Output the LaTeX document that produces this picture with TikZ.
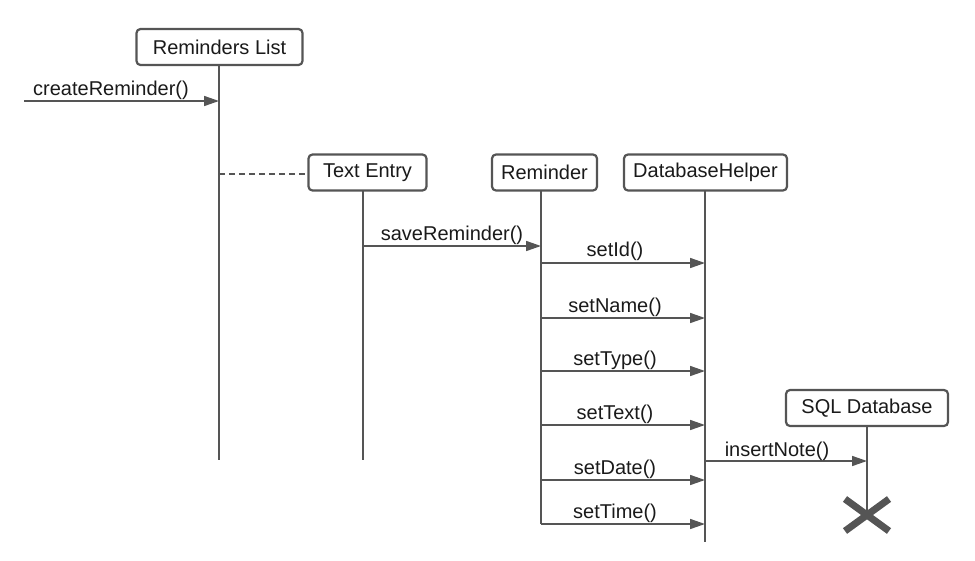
\documentclass[tikz,border=0pt]{standalone}
\usepackage{fontspec}
\setmainfont{Liberation Sans}
\usetikzlibrary{arrows.meta}
\definecolor{ln}{HTML}{555555}
\definecolor{tx}{HTML}{1A1A1A}
\begin{document}
\begin{tikzpicture}[x=1pt,y=-1pt,
  obj/.style={draw=ln,line width=2.2pt,rounded corners=4pt,fill=white,text=tx,
    font=\fontsize{20}{24}\selectfont,minimum height=36pt,inner sep=0pt},
  life/.style={draw=ln,line width=1.6pt},
  msg/.style={draw=ln,line width=1.6pt,-{Triangle[length=15pt,width=10pt]}},
  lbl/.style={anchor=south,inner sep=0pt,text=tx,font=\fontsize{20}{24}\selectfont},
  xmark/.style={draw=ln,line width=7pt}
]
\useasboundingbox (0,0) rectangle (975,560);

% objects
\node[obj,minimum width=166pt] (rl)  at (219.5,47)  {Reminders List};
\node[obj,minimum width=118pt] (te)  at (367.5,172.5) {Text Entry};
\node[obj,minimum width=105pt] (rem) at (544.5,172.5) {Reminder};
\node[obj,minimum width=163pt] (dbh) at (705.5,172.5) {DatabaseHelper};
\node[obj,minimum width=162pt] (sql) at (867,408)   {SQL Database};

% lifeline ends
\coordinate (rlT)  at (219,65);  \coordinate (rlB)  at (219,460);
\coordinate (teT)  at (363,190); \coordinate (teB)  at (363,460);
\coordinate (remT) at (541,190); \coordinate (remB) at (541,524);
\coordinate (dbhT) at (705,190); \coordinate (dbhB) at (705,542);
\coordinate (sqlT) at (867,426); \coordinate (sqlX) at (867,515);
\coordinate (start) at (24,101);

% lifelines
\draw[life] (rlT) -- (rlB);
\draw[life] (teT) -- (teB);
\draw[life] (remT) -- (remB);
\draw[life] (dbhT) -- (dbhB);
\draw[life] (sqlT) -- (sqlX);

% creation (dashed)
\draw[life,line width=1.3pt,dash pattern=on 6pt off 4pt] (rlT |- 0,174) -- (te.west |- 0,174);

% messages
\draw[msg] (start) -- (rlT |- start);
\node[lbl] at (111,100) {createReminder()};

\draw[msg] (teT |- 0,246) -- (remT |- 0,246);
\node[lbl] at (452,244.5) {saveReminder()};

\draw[msg] (remT |- 0,263) -- (dbhT |- 0,263);
\node[lbl] at (615,261) {setId()};

\draw[msg] (remT |- 0,318) -- (dbhT |- 0,318);
\node[lbl] at (615,316.5) {setName()};

\draw[msg] (remT |- 0,371) -- (dbhT |- 0,371);
\node[lbl] at (615,369.5) {setType()};

\draw[msg] (remT |- 0,425) -- (dbhT |- 0,425);
\node[lbl] at (615,424) {setText()};

\draw[msg] (remT |- 0,480) -- (dbhT |- 0,480);
\node[lbl] at (615,479) {setDate()};

\draw[msg] (remB) -- (dbhT |- remB);
\node[lbl] at (615,523) {setTime()};

\draw[msg] (dbhT |- 0,461) -- (sqlT |- 0,461);
\node[lbl] at (777,460.5) {insertNote()};

% destruction
\draw[xmark] ([shift={(-22,-16)}]sqlX) -- ([shift={(22,16)}]sqlX);
\draw[xmark] ([shift={(-22,16)}]sqlX) -- ([shift={(22,-16)}]sqlX);
\end{tikzpicture}
\end{document}
